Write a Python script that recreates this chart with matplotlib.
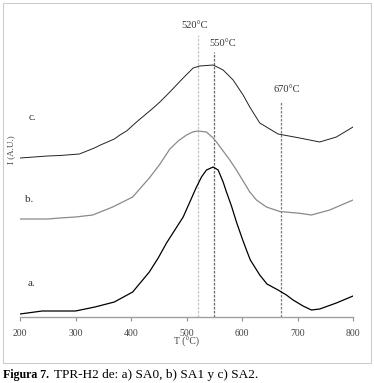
import matplotlib
matplotlib.use("Agg")
import matplotlib.pyplot as plt
from matplotlib.patches import Rectangle

plt.rcParams['font.family'] = ['Liberation Serif', 'DejaVu Serif']

# TPR-H2 curves (T in C, intensity in arbitrary units)
t_a = [200, 240, 300, 335, 370, 403, 433, 449, 464, 479, 494, 506, 518, 527, 536, 548,
       557, 566, 572, 581, 590, 600, 608, 615, 632, 645, 665, 680, 692, 710, 725, 740,
       770, 800]
i_a = [3, 6, 6, 10, 15, 25, 45, 59, 74, 87, 100, 115, 130, 140, 147, 150,
       147, 135, 125, 111, 95, 79, 67, 57, 42, 33, 27, 22, 17, 11, 7, 8,
       14, 21]

t_b = [200, 250, 272, 300, 331, 367, 403, 433, 451, 470, 485, 500, 511, 520, 536, 548,
       554, 566, 578, 590, 602, 614, 626, 644, 668, 704, 725, 758, 800]
i_b = [98, 98, 99, 100, 102, 110, 120, 139, 152, 168, 176, 182, 185, 186, 185, 179,
       175, 166, 157, 147, 136, 125, 117, 110, 105.5, 103.7, 102, 107, 117]

t_c = [200, 250, 272, 307, 334, 345, 370, 380, 392, 410, 440, 452, 470, 494, 512, 524,
       548, 566, 584, 602, 614, 632, 665, 704, 740, 770, 800]
i_c = [159, 161, 161.5, 163, 169, 172, 178, 182, 186, 195, 209, 215, 225, 239, 249, 251,
       252, 247, 237, 222, 210, 194, 183, 179, 175, 180, 190]

peaks = [520, 550, 670]
peak_labels = ['520°C', '550°C', '670°C']
xticks = [200, 300, 400, 500, 600, 700, 800]

W, H = 374, 383
fig = plt.figure(figsize=(W / 100, H / 100), dpi=100)
ax = fig.add_axes([20 / W, 66 / H, 333 / W, 307 / H])

# reference lines
ax.vlines(peaks[0], 0, 282, colors='#c4c4c4', linestyles=(0, (2, 1.2)), lw=0.9)
ax.vlines(peaks[1], 0, 265, colors='#6a6a6a', linestyles=(0, (2, 1.2)), lw=0.9)
ax.vlines(peaks[2], 0, 215, colors='#7a7a7a', linestyles=(0, (2, 1.2)), lw=0.9)

ax.plot(t_a, i_a, color='black', lw=0.9)
ax.plot(t_b, i_b, color='#8a8a8a', lw=0.9)
ax.plot(t_c, i_c, color='#222222', lw=0.7)

ax.text(514.6, 291, peak_labels[0], ha='center', va='center', fontsize=7.5, color='#333333')
ax.text(565.6, 273.7, peak_labels[1], ha='center', va='center', fontsize=7.5, color='#333333')
ax.text(680, 227, peak_labels[2], ha='center', va='center', fontsize=7.5, color='#333333')

ax.text(222, 199, 'c.', ha='center', va='center', fontsize=8, color='#333333')
ax.text(217, 118, 'b.', ha='center', va='center', fontsize=8, color='#333333')
ax.text(221, 33, 'a.', ha='center', va='center', fontsize=8, color='#333333')

ax.set_xlim(200, 800)
ax.set_ylim(0, 307)
ax.set_xticks(xticks)
ax.set_yticks([])
for s in ['left', 'right', 'top']:
    ax.spines[s].set_visible(False)
ax.spines['bottom'].set_color('#a0a0a0')
ax.spines['bottom'].set_linewidth(1.0)
ax.tick_params(axis='x', direction='out', length=3, width=0.8, color='#909090',
               labelsize=7, labelcolor='#444444', pad=6)
ax.patch.set_visible(False)
ax.set_xlabel('T (°C)', fontsize=7, color='#444444', labelpad=-1)

fig.text(11 / W, (H - 150) / H, 'I (A.U.)', rotation=90, ha='center', va='center',
         fontsize=6.5, color='#444444')

fig.patches.append(Rectangle((3 / W, 20 / H), 368 / W, 360 / H, transform=fig.transFigure,
                             fill=False, edgecolor='#cccccc', lw=0.8))

fig.text(3 / W, 8 / H, 'Figura 7.', fontsize=8.6, fontweight='bold', va='center')
fig.text(54 / W, 8 / H, 'TPR-H2 de: a) SA0, b) SA1 y c) SA2.', fontsize=9.5, va='center')

fig.savefig('out.png', dpi=100)
